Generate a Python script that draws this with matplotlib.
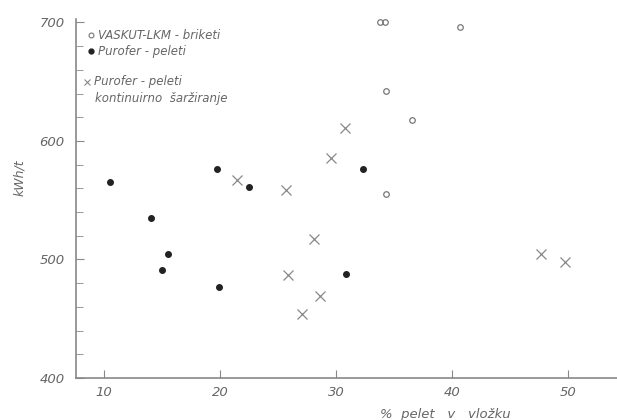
import matplotlib.pyplot as plt
from matplotlib.ticker import MultipleLocator

# VASKUT-LKM - briketi (open circles)
briketi_x = [33.8, 34.25, 40.7, 34.3, 36.6, 34.3]
briketi_y = [700, 700, 696, 642, 618, 555]

# Purofer - peleti (filled dots)
peleti_x = [10.5, 14.0, 15.5, 15.0, 19.75, 19.9, 22.5, 32.3, 30.9]
peleti_y = [565, 535, 505, 491, 576, 477, 561, 576, 488]

# Purofer - peleti, kontinuirno sarziranje (crosses)
kont_x = [21.5, 25.7, 25.9, 30.8, 29.6, 28.1, 28.6, 27.1, 47.7, 49.8]
kont_y = [567, 559, 487, 611, 586, 517, 469, 454, 505, 498]

x_ticks = [10, 20, 30, 40, 50]
y_ticks = [400, 500, 600, 700]

grey = '#666666'
plt.rcParams['font.family'] = ['DejaVu Sans']

fig = plt.figure(figsize=(6.17, 4.2), dpi=100)
ax = fig.add_axes([0.123, 0.1, 0.877, 0.855])

ax.plot(briketi_x, briketi_y, 'o', ms=4, mfc='none', mec='#777777', mew=0.9)
ax.plot(peleti_x, peleti_y, 'o', ms=4, color='#222222')
ax.plot(kont_x, kont_y, 'x', ms=7, color='#888888', mew=0.9)

ax.set_xlim(7.56, 54.26)
ax.set_ylim(400, 703)
ax.set_xticks(x_ticks)
ax.set_yticks(y_ticks)
ax.yaxis.set_minor_locator(MultipleLocator(20))

for s in ['top', 'right']:
    ax.spines[s].set_visible(False)
for s in ['left', 'bottom']:
    ax.spines[s].set_color('#888888')
    ax.spines[s].set_linewidth(1.2)

ax.tick_params(axis='both', which='both', direction='in', color='#888888',
               labelcolor=grey, labelsize=9.5)
ax.tick_params(axis='y', which='major', length=6, pad=8)
ax.tick_params(axis='y', which='minor', length=5)
ax.tick_params(axis='x', which='major', length=6, pad=6)
for lab in ax.get_xticklabels() + ax.get_yticklabels():
    lab.set_fontstyle('italic')

fig.text(0.031, 0.576, 'kWh/t', rotation=90, fontstyle='italic', color=grey,
         fontsize=9, ha='center', va='center')
fig.text(0.721, 0.012, '%  pelet   v   vložku', fontstyle='italic', color=grey,
         fontsize=9.5, ha='center', va='center')

# legend drawn by hand
tr = ax.transAxes
ax.plot([0.027], [0.955], 'o', ms=3.5, mfc='none', mec='#777777', mew=0.8,
        transform=tr, clip_on=False)
ax.text(0.04, 0.955, 'VASKUT-LKM - briketi', transform=tr, fontstyle='italic',
        color=grey, fontsize=8.5, va='center')
ax.plot([0.027], [0.91], 'o', ms=3.5, color='#222222', transform=tr, clip_on=False)
ax.text(0.04, 0.91, 'Purofer - peleti', transform=tr, fontstyle='italic',
        color=grey, fontsize=8.5, va='center')
ax.plot([0.02], [0.825], 'x', ms=5, color='#888888', mew=0.8, transform=tr,
        clip_on=False)
ax.text(0.033, 0.825, 'Purofer - peleti', transform=tr, fontstyle='italic',
        color=grey, fontsize=8.5, va='center')
ax.text(0.035, 0.778, 'kontinuirno  šaržiranje', transform=tr, fontstyle='italic',
        color=grey, fontsize=8.5, va='center')

fig.savefig('out.png', dpi=100)
